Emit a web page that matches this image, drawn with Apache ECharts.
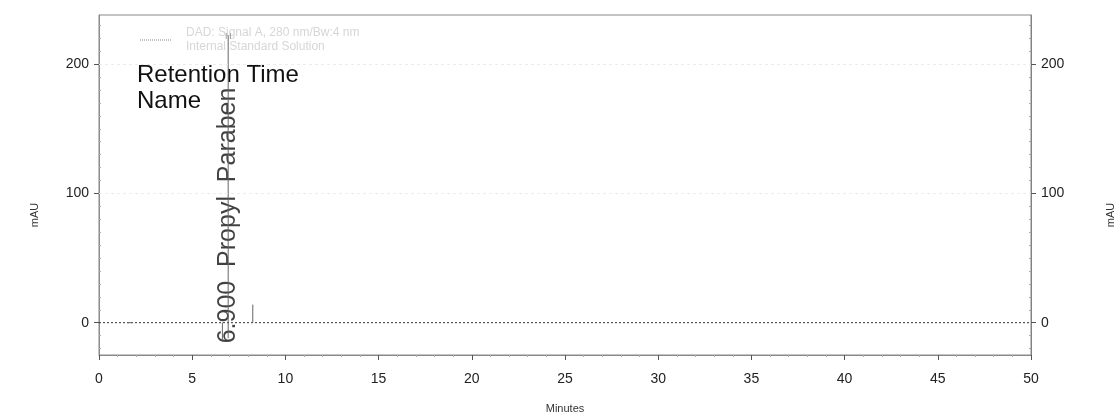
<!DOCTYPE html>
<html><head><meta charset="utf-8">
<script src="https://cdn.jsdelivr.net/npm/echarts@6/dist/echarts.min.js"></script>
<style>html,body{margin:0;padding:0;background:#fff}#c{width:1120px;height:416px}</style>
</head><body><div id="c"></div>
<script>
// ---- data ----
const xTicks = [0, 5, 10, 15, 20, 25, 30, 35, 40, 45, 50];
const yTicks = [0, 100, 200];
const yMinor = [-20, -10, 10, 20, 30, 40, 50, 60, 70, 80, 90, 110, 120, 130, 140, 150, 160, 170, 180, 190, 210, 220, 230];
// signal trace (minutes, mAU); null breaks the line
const traceTime = [1.5, 1.8, null, 6.62, 6.62, null, 6.93, 6.93, null, 8.25, 8.25];
const traceSignal = [0, 0, null, 0, -14, null, -12, 222, null, 0, 14];
const baselineTime = [0, 50];
const baselineSignal = [0, 0];
const peakTime = [6.93];
const peakLabelBase = [-16];
const peakNames = ['6.900  Propyl  Paraben'];
const legendTitle = ['DAD: Signal A, 280 nm/Bw:4 nm', 'Internal Standard Solution'];

const trace = traceTime.map((t, i) => t === null ? [null, null] : [t, traceSignal[i]]);
const baseline = baselineTime.map((t, i) => [t, baselineSignal[i]]);
const peaks = peakTime.map((t, i) => ({ value: [t, peakLabelBase[i]], name: peakNames[i] }));

const font = 'Liberation Sans, Arial, sans-serif';
const chart = echarts.init(document.getElementById('c'), null, { renderer: 'canvas' });
const yMin = -25, yMax = 238;
function mainY(pos) {
  return {
    type: 'value', position: pos, min: yMin, max: yMax,
    axisLine: { show: true, lineStyle: { color: pos === 'left' ? '#8a8a8a' : '#7d809a', width: 1 } },
    axisTick: { show: true, customValues: yTicks, length: 5, lineStyle: { color: '#555' } },
    axisLabel: { customValues: yTicks, fontFamily: font, fontSize: 14, color: '#222', margin: 10 },
    splitLine: { show: false }
  };
}
function minorY(pos) {
  return {
    type: 'value', position: pos, min: yMin, max: yMax,
    axisLine: { show: false },
    axisTick: { show: true, inside: true, customValues: yMinor, length: 2, lineStyle: { color: '#aaa' } },
    axisLabel: { show: false }, splitLine: { show: false }
  };
}
chart.setOption({
  animation: false,
  grid: { left: 99, right: 89, top: 15, bottom: 61, outerBoundsMode: 'none', containLabel: false,
          show: true, borderColor: '#888', borderWidth: 1 },
  xAxis: {
    type: 'value', min: 0, max: 50, interval: 5,
    name: 'Minutes', nameLocation: 'middle', nameGap: 48,
    nameTextStyle: { fontFamily: font, fontSize: 11, color: '#333' },
    axisLine: { show: true, onZero: false, lineStyle: { color: '#888' } },
    axisTick: { show: true, length: 5, lineStyle: { color: '#555' } },
    minorTick: { show: true, splitNumber: 5, length: 2, lineStyle: { color: '#aaa' } },
    axisLabel: { fontFamily: font, fontSize: 14, color: '#222', margin: 17 },
    splitLine: { show: false }
  },
  yAxis: [mainY('left'), mainY('right'), minorY('left'), minorY('right')],
  series: [
    {
      type: 'line', data: baseline, symbol: 'none', silent: true,
      lineStyle: { color: '#333', width: 1, type: [2, 2] },
      markLine: {
        silent: true, symbol: 'none', label: { show: false },
        lineStyle: { color: '#ececec', width: 1, type: [3, 3] },
        data: [{ yAxis: 100 }, { yAxis: 200 }]
      }
    },
    {
      type: 'line', data: trace, symbol: 'none', connectNulls: false, silent: true,
      lineStyle: { color: '#666', width: 1 }
    },
    {
      type: 'scatter', data: peaks, symbolSize: 0, silent: true,
      label: {
        show: true, formatter: p => p.name, rotate: 90, position: 'inside',
        align: 'left', verticalAlign: 'middle',
        fontFamily: font, fontSize: 25, color: '#111'
      }
    }
  ],
  graphic: [
    { type: 'text', left: 137, top: 63, style: { text: 'Retention Time', font: '24px ' + font, fill: '#111' } },
    { type: 'text', left: 137, top: 89, style: { text: 'Name', font: '24px ' + font, fill: '#111' } },
    { type: 'line', shape: { x1: 140, y1: 40, x2: 172, y2: 40 }, style: { stroke: '#888', lineWidth: 1, lineDash: [1, 1] } },
    { type: 'text', left: 186, top: 27, style: { text: legendTitle[0], font: '12px ' + font, fill: '#d6d6d6' } },
    { type: 'text', left: 186, top: 41, style: { text: legendTitle[1], font: '12px ' + font, fill: '#d6d6d6' } },
    { type: 'text', left: 225, top: 32, style: { text: 'H', font: '9px ' + font, fill: '#999' } },
    { type: 'text', x: 35, y: 215, rotation: Math.PI / 2,
      style: { text: 'mAU', font: '11px ' + font, fill: '#333', align: 'center', verticalAlign: 'middle' } },
    { type: 'text', x: 1111, y: 215, rotation: Math.PI / 2,
      style: { text: 'mAU', font: '11px ' + font, fill: '#333', align: 'center', verticalAlign: 'middle' } }
  ]
});
</script></body></html>
